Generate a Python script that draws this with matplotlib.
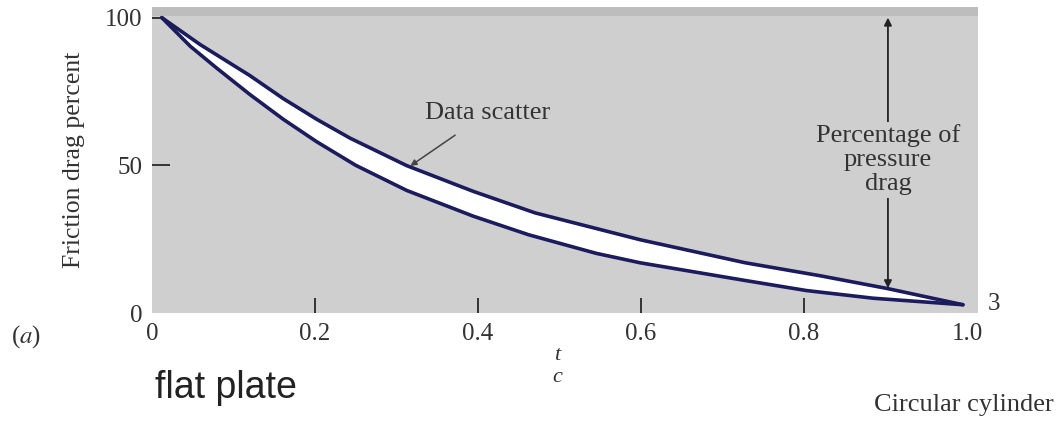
import matplotlib
matplotlib.use("Agg")
import matplotlib.pyplot as plt

# Values (t/c vs friction drag percent)
upper_t = [0.012, 0.059, 0.120, 0.161, 0.202, 0.243, 0.3125, 0.394, 0.470,
           0.599, 0.728, 0.820, 0.902, 0.995]
upper_pct = [100, 90.9, 80.4, 72.6, 65.6, 59.2, 49.9, 41.2, 33.9,
             24.8, 17.0, 12.6, 8.3, 2.8]
lower_t = [0.012, 0.047, 0.079, 0.120, 0.161, 0.202, 0.250, 0.3125,
           0.394, 0.462, 0.545, 0.599, 0.728, 0.803, 0.885, 0.995]
lower_pct = [100, 90.3, 83.0, 74.0, 65.6, 58.0, 50.0, 41.5,
             32.8, 26.5, 20.2, 17.0, 11.0, 7.6, 5.0, 2.8]
x_ticks = [0, 0.2, 0.4, 0.6, 0.8, 1.0]
x_labels = ["0", "0.2", "0.4", "0.6", "0.8", "1.0"]
y_ticks = [0, 50, 100]
y_labels = ["0", "50", "100"]

plt.rcParams["mathtext.fontset"] = "stix"
serif = ["Liberation Serif", "DejaVu Serif"]
txt = "#333333"
navy = "#1b1b5e"
bg = "#cfcfcf"

fig = plt.figure(figsize=(10.6, 4.21), dpi=100)
ax = fig.add_axes([152 / 1060, 1 - 313 / 421, 826 / 1060, 306 / 421])
ax.set_facecolor(bg)
ax.set_xlim(0, 1.0135)
ax.set_ylim(0, 103.6)
for s in ax.spines.values():
    s.set_visible(False)

# slightly darker band along the top edge
ax.axhspan(100.4, 103.6, color="#bdbdbd", lw=0, zorder=0)

# white band between the two scatter limits
ax.fill(upper_t + lower_t[::-1], upper_pct + lower_pct[::-1],
        color="white", lw=0, zorder=2)
ax.plot(upper_t, upper_pct, color=navy, lw=2.6, solid_capstyle="round",
        solid_joinstyle="round", zorder=3)
ax.plot(lower_t, lower_pct, color=navy, lw=2.6, solid_capstyle="round",
        solid_joinstyle="round", zorder=3)

ax.set_xticks(x_ticks)
ax.set_xticklabels(x_labels, fontfamily=serif, fontsize=18, color=txt)
ax.set_yticks(y_ticks)
ax.set_yticklabels(y_labels, fontfamily=serif, fontsize=18, color=txt)
ax.tick_params(axis="x", direction="in", length=11, width=1.4, color=txt, pad=7)
ax.tick_params(axis="y", direction="in", length=13, width=1.4, color=txt, pad=7)
ax.xaxis.get_major_ticks()[0].tick1line.set_visible(False)
ax.xaxis.get_major_ticks()[-1].tick1line.set_visible(False)
ax.yaxis.get_major_ticks()[0].tick1line.set_visible(False)
ax.yaxis.get_major_ticks()[-1].tick1line.set_markersize(6)

ax.set_ylabel("Friction drag percent", fontfamily=serif, fontsize=18.5,
              color=txt, labelpad=14)

# annotations
ax.annotate("Data scatter", xy=(0.317, 49.8), xytext=(0.412, 67.8),
            ha="center", va="center", fontfamily=serif, fontsize=19, color=txt,
            arrowprops=dict(arrowstyle="-|>", color="#444444", lw=1.1,
                            mutation_scale=9, shrinkA=11, shrinkB=0),
            zorder=5)

ax.annotate("", xy=(0.903, 100), xytext=(0.903, 8.4),
            arrowprops=dict(arrowstyle="<|-|>", color="#222222", lw=1.3,
                            mutation_scale=11, shrinkA=0, shrinkB=0),
            zorder=4)
ax.text(0.903, 51.9, "Percentage of\npressure\ndrag", ha="center", va="center",
        fontfamily=serif, fontsize=19, color=txt, linespacing=1.1,
        bbox=dict(facecolor=bg, edgecolor="none", pad=2), zorder=5)

ax.text(1.026, 3.2, "3", ha="left", va="center", fontfamily=serif, fontsize=18,
        color=txt, clip_on=False)

fig.text(26 / 1060, 1 - 337 / 421, r"($\mathit{a}$)", ha="center", va="center",
         fontfamily=serif, fontsize=18, color=txt)

fig.text(557 / 1060, 1 - 355 / 421, "t", ha="center", va="center", fontfamily=serif,
         style="italic", fontsize=16, color=txt)
fig.text(557 / 1060, 1 - 378 / 421, "c", ha="center", va="center", fontfamily=serif,
         style="italic", fontsize=16, color=txt)

fig.text(226 / 1060, 1 - 388 / 421, "flat plate", ha="center", va="center",
         fontfamily=["Liberation Sans", "DejaVu Sans"], fontsize=27, color="#222222")
fig.text(964 / 1060, 1 - 405 / 421, "Circular cylinder", ha="center", va="center",
         fontfamily=serif, fontsize=19, color=txt)

fig.savefig("out.png", dpi=100)
